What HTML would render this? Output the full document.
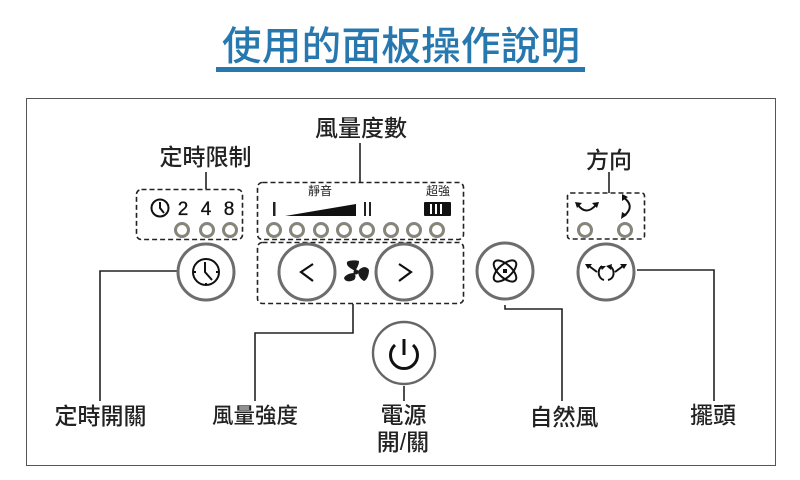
<!DOCTYPE html>
<html>
<head>
<meta charset="utf-8">
<style>
html,body{margin:0;padding:0;background:#fff;width:800px;height:480px;overflow:hidden}
svg{display:block}
text{font-family:"Liberation Sans","Noto Sans CJK TC",sans-serif}
.l{font-size:23px;font-weight:500;fill:#222;text-anchor:middle}
.line{stroke:#222;stroke-width:1.6;fill:none}
.dash{stroke:#222;stroke-width:1.6;fill:none;stroke-dasharray:5 3}
.led{fill:#fff;stroke:#85857a;stroke-width:3}
.btn{fill:#fff;stroke:#6d6d6d;stroke-width:3}
.ic{stroke:#111;fill:none;stroke-width:2}
</style>
</head>
<body>
<svg width="800" height="480" viewBox="0 0 800 480" xmlns="http://www.w3.org/2000/svg">
<text x="401" y="60" font-size="39.500" font-weight="500" fill="#2878b0" text-anchor="middle" textLength="358" lengthAdjust="spacing">使用的面板操作說明</text>
<rect x="216" y="67" width="369" height="5" fill="#2878b0"/>
<rect x="26.500" y="98.500" width="749" height="367" fill="none" stroke="#555" stroke-width="1"/>

<text class="l" x="361" y="136">風量度數</text>
<text class="l" x="205.500" y="165">定時限制</text>
<text class="l" x="609" y="168">方向</text>
<text class="l" x="100.500" y="424">定時開關</text>
<text class="l" x="255" y="423" style="font-size:21.500px">風量強度</text>
<text class="l" x="403.500" y="423">電源</text>
<text class="l" x="403" y="450">開/關</text>
<text class="l" x="564" y="425">自然風</text>
<text class="l" x="713" y="423">擺頭</text>

<path class="line" d="M206 172V189M360 143V182M609 172V193M404 386V401"/>
<path class="line" d="M177 271H100V401"/>
<path class="line" d="M353 304V333H255V401"/>
<path class="line" d="M505 305V309H562V401"/>
<path class="line" d="M637 270H714V401"/>

<rect class="dash" x="136.500" y="189.500" width="106" height="50" rx="5"/>
<rect class="dash" x="257.500" y="182.500" width="206" height="57" rx="5"/>
<rect class="dash" x="257.500" y="242.500" width="206" height="61" rx="5"/>
<rect class="dash" x="567.500" y="193" width="77" height="46" rx="3"/>

<!-- timer panel -->
<circle cx="160" cy="208" r="8.500" class="ic" stroke-width="1.600"/>
<path class="ic" stroke-width="1.500" d="M160 202V208L164 213"/>
<text x="183" y="215" font-size="19" fill="#111" stroke="#111" stroke-width="0.300" text-anchor="middle">2</text>
<text x="206" y="215" font-size="19" fill="#111" stroke="#111" stroke-width="0.300" text-anchor="middle">4</text>
<text x="229" y="215" font-size="19" fill="#111" stroke="#111" stroke-width="0.300" text-anchor="middle">8</text>
<circle class="led" cx="182" cy="230" r="6.500"/>
<circle class="led" cx="207" cy="230" r="6.500"/>
<circle class="led" cx="230" cy="230" r="6.500"/>

<!-- level panel -->
<text x="320" y="195" font-size="12" fill="#222" text-anchor="middle">靜音</text>
<text x="438" y="195" font-size="12" fill="#222" text-anchor="middle">超強</text>
<rect x="273" y="202" width="2.500" height="14" fill="#222"/>
<path d="M285 216L356 204V216Z" fill="#111"/>
<rect x="364" y="202" width="2" height="14" fill="#222"/>
<rect x="369" y="202" width="2" height="14" fill="#222"/>
<rect x="424" y="202" width="27" height="14" rx="1" fill="#111"/>
<path d="M431 204V214M436 204V214M441 204V214" stroke="#fff" stroke-width="2"/>
<g>
<circle class="led" cx="274" cy="230" r="6.500"/>
<circle class="led" cx="297" cy="230" r="6.500"/>
<circle class="led" cx="321" cy="230" r="6.500"/>
<circle class="led" cx="344" cy="230" r="6.500"/>
<circle class="led" cx="367" cy="230" r="6.500"/>
<circle class="led" cx="391" cy="230" r="6.500"/>
<circle class="led" cx="414" cy="230" r="6.500"/>
<circle class="led" cx="437" cy="230" r="6.500"/>
</g>

<!-- swing panel -->
<path class="ic" d="M578 205Q586 216 596 205"/>
<path d="M575 202L582 203L577 208ZM599 202L592 203L597 208Z" fill="#111"/>
<path class="ic" d="M623 197Q636 206 624 216"/>
<path d="M622 194L628 197L622 201ZM621 219L627 215L622 212Z" fill="#111"/>
<circle class="led" cx="585" cy="230" r="6.500"/>
<circle class="led" cx="625" cy="230" r="6.500"/>

<!-- timer button -->
<circle class="btn" cx="206" cy="272" r="28"/>
<circle class="ic" cx="206" cy="272" r="13"/>
<path class="ic" d="M205 262V272L212 280M193 272H196M216 272H219M206 283V285"/>

<!-- arrows -->
<circle class="btn" cx="307" cy="272" r="28"/>
<path d="M313 264L301 272L313 281" fill="none" stroke="#111" stroke-width="2.200"/>
<circle class="btn" cx="404" cy="272" r="28"/>
<path d="M399 264L411 272L399 281" fill="none" stroke="#111" stroke-width="2.200"/>

<!-- fan -->
<g fill="#1a1a1a">
<circle cx="356" cy="272" r="2.500"/>
<path d="M355 271C350 268 346 266 347 262C349 260 356 260 359 261C359 265 357 268 355 271Z"/>
<path d="M358 271C362 266 367 266 369 270C369 275 367 280 364 281C360 279 358 275 358 271Z"/>
<path d="M354 273C350 273 345 275 344 278C345 282 350 282 354 280C356 278 356 275 354 273Z"/>
</g>

<!-- auto -->
<circle class="btn" cx="505" cy="271" r="28"/>
<g stroke-width="2" fill="none" stroke="#111">
<ellipse cx="505" cy="271" rx="14" ry="6.500" transform="rotate(42 505 271)"/>
<ellipse cx="505" cy="271" rx="14" ry="6.500" transform="rotate(-42 505 271)"/>
</g>
<rect x="503" y="269" width="4" height="4" fill="#111"/>

<!-- swing -->
<circle class="btn" cx="606" cy="272" r="28"/>
<path class="ic" d="M602 266C596 271 599 279 604 280M608 280C614 279 616 271 610 266"/>
<path d="M606 266H600L602 270ZM606 266L612 264L611 270Z" fill="#111"/>
<path class="ic" stroke-width="1.600" d="M597 272L589 266M615 272L623 266"/>
<path d="M585 264L592 264L588 269ZM627 264L620 264L624 269Z" fill="#111"/>

<!-- power -->
<circle cx="404" cy="353" r="31" fill="#fff" stroke="#666" stroke-width="2.400"/>
<path d="M395 345A13.500 13.500 0 1 0 413 345" fill="none" stroke="#111" stroke-width="3"/>
<path d="M404 339V355" stroke="#111" stroke-width="3"/>
</svg>
</body>
</html>
